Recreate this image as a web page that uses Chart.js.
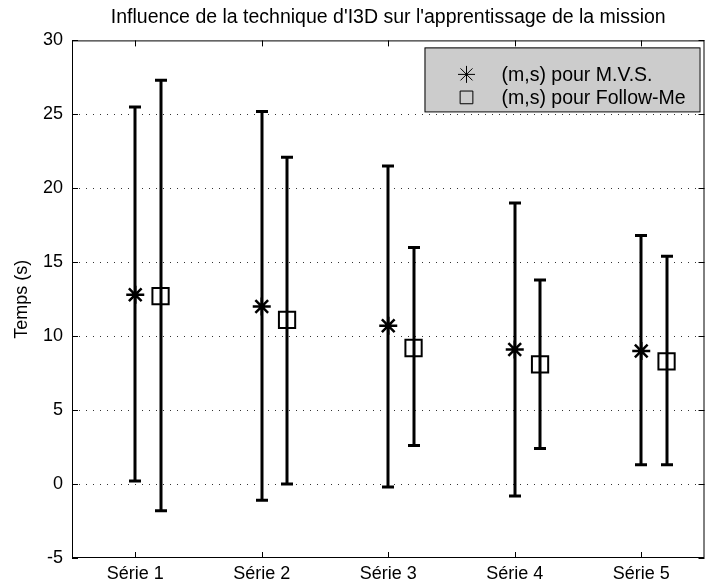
<!DOCTYPE html>
<html>
<head>
<meta charset="utf-8">
<script src="https://cdn.jsdelivr.net/npm/chart.js@4/dist/chart.umd.min.js"></script>
<style>
    html, body { margin: 0; padding: 0; background: #fff; }
</style>
</head>
<body>
<canvas id="chart" width="718" height="587"></canvas>
<script>
const CATEGORIES = ["Série 1", "Série 2", "Série 3", "Série 4", "Série 5"];

// M.V.S. : moyenne, bas et haut de la barre (m - s, m + s)
const MVS_MEAN = [12.8, 12.0, 10.7, 9.1, 9.0];
const MVS_LOW = [0.2, -1.1, -0.2, -0.8, 1.3];
const MVS_HIGH = [25.5, 25.2, 21.5, 19.0, 16.8];

// Follow-Me
const FM_MEAN = [12.7, 11.1, 9.2, 8.1, 8.3];
const FM_LOW = [-1.8, 0.0, 2.6, 2.4, 1.3];
const FM_HIGH = [27.3, 22.1, 16.0, 13.8, 15.4];

const Y_MIN = -5;
const Y_MAX = 30;
const Y_STEP = 5;

const FM_SHIFT = 0.2;
const FONT = "'Liberation Sans', Arial, sans-serif";

function buildPoints(mean, low, high, shift) {
    return mean.map((m, i) => ({ x: i + 1 + shift, y: m, low: low[i], high: high[i] }));
}

const errorBars = {
    id: "errorBars",
    beforeDatasetsDraw(chart) {
        const ctx = chart.ctx;
        const yScale = chart.scales.y;
        ctx.save();
        ctx.strokeStyle = "#000";
        ctx.lineWidth = 3;
        chart.data.datasets.forEach((ds, di) => {
            const meta = chart.getDatasetMeta(di);
            meta.data.forEach((pt, i) => {
                const raw = ds.data[i];
                const x = Math.round(pt.x);
                const yLow = yScale.getPixelForValue(raw.low);
                const yHigh = yScale.getPixelForValue(raw.high);
                ctx.beginPath();
                ctx.moveTo(x, yLow);
                ctx.lineTo(x, yHigh);
                ctx.moveTo(x - 6, yLow);
                ctx.lineTo(x + 6, yLow);
                ctx.moveTo(x - 6, yHigh);
                ctx.lineTo(x + 6, yHigh);
                ctx.stroke();
            });
        });
        ctx.restore();
    },
};

const frameAndTicks = {
    id: "frameAndTicks",
    afterDraw(chart) {
        const ctx = chart.ctx;
        const { left, right, top, bottom } = chart.chartArea;
        const xScale = chart.scales.x;
        const yScale = chart.scales.y;
        const len = 6;
        ctx.save();
        ctx.strokeStyle = "#000";
        ctx.lineWidth = 1;
        ctx.strokeRect(left + 0.5, top + 0.5, right - left - 1, bottom - top - 1);
        ctx.beginPath();
        CATEGORIES.forEach((c, i) => {
            const px = Math.round(xScale.getPixelForValue(i + 1)) + 0.5;
            ctx.moveTo(px, bottom);
            ctx.lineTo(px, bottom - len);
            ctx.moveTo(px, top);
            ctx.lineTo(px, top + len);
        });
        for (let v = Y_MIN; v <= Y_MAX; v += Y_STEP) {
            const py = Math.round(yScale.getPixelForValue(v)) + 0.5;
            ctx.moveTo(left, py);
            ctx.lineTo(left + len, py);
            ctx.moveTo(right, py);
            ctx.lineTo(right - len, py);
        }
        ctx.stroke();
        ctx.restore();
    },
};

const boxLegend = {
    id: "boxLegend",
    afterDraw(chart) {
        const ctx = chart.ctx;
        const area = chart.chartArea;
        const w = 275, h = 64;
        const x0 = area.right - 5 - w;
        const y0 = area.top + 7;
        ctx.save();
        ctx.fillStyle = "#cccccc";
        ctx.fillRect(x0, y0, w, h);
        ctx.strokeStyle = "#000";
        ctx.lineWidth = 1;
        ctx.strokeRect(x0 + 0.5, y0 + 0.5, w, h);
        ctx.font = "19.5px " + FONT;
        ctx.textBaseline = "middle";
        chart.data.datasets.forEach((ds, i) => {
            const cy = y0 + 27 + i * 23;
            ctx.fillStyle = "rgba(0,0,0,0)";
            ctx.strokeStyle = "#000";
            Chart.helpers.drawPoint(ctx, {
                pointStyle: ds.pointStyle,
                radius: ds.legendRadius,
                borderWidth: ds.legendBorder,
                rotation: 0,
            }, x0 + 42, cy);
            ctx.fillStyle = "#000";
            ctx.fillText(ds.label, x0 + 77, cy + 1);
        });
        ctx.restore();
    },
};

new Chart(document.getElementById("chart"), {
    type: "scatter",
    data: {
        datasets: [
            {
                label: "(m,s) pour M.V.S.",
                data: buildPoints(MVS_MEAN, MVS_LOW, MVS_HIGH, 0),
                pointStyle: "star",
                pointRadius: 9,
                legendRadius: 8.5,
                legendBorder: 1.5,
                borderWidth: 2.5,
                borderColor: "#000",
                backgroundColor: "#000",
            },
            {
                label: "(m,s) pour Follow-Me",
                data: buildPoints(FM_MEAN, FM_LOW, FM_HIGH, FM_SHIFT),
                pointStyle: "rect",
                pointRadius: 11.5,
                legendRadius: 9,
                legendBorder: 1.5,
                borderWidth: 2,
                borderColor: "#000",
                backgroundColor: "rgba(0,0,0,0)",
            },
        ],
    },
    options: {
        responsive: false,
        animation: false,
        layout: { padding: { left: 0, right: 11, top: 0, bottom: 0 } },
        plugins: {
            legend: { display: false },
            tooltip: { enabled: false },
            title: {
                display: true,
                fullSize: false,
                text: "Influence de la technique d'I3D sur l'apprentissage de la mission",
                color: "#000",
                font: { family: FONT, size: 19.5, weight: "normal" },
                padding: { top: 6, bottom: 11 },
            },
        },
        scales: {
            x: {
                type: "linear",
                min: 0.5,
                max: 5.5,
                afterFit: (axis) => { axis.height = 29; },
                afterBuildTicks: (axis) => {
                    axis.ticks = CATEGORIES.map((c, i) => ({ value: i + 1 }));
                },
                ticks: {
                    color: "#000",
                    font: { family: FONT, size: 18 },
                    padding: 5,
                    maxRotation: 0,
                    callback: (v) => CATEGORIES[v - 1],
                },
                grid: { display: false, drawTicks: false },
                border: { display: false },
            },
            y: {
                min: Y_MIN,
                max: Y_MAX,
                afterFit: (axis) => { axis.width = 72; },
                ticks: {
                    stepSize: Y_STEP,
                    color: "#000",
                    font: { family: FONT, size: 18 },
                    padding: 9,
                },
                title: {
                    display: true,
                    text: "Temps (s)",
                    color: "#000",
                    font: { family: FONT, size: 18 },
                    padding: { top: 11, bottom: 0 },
                },
                grid: {
                    drawTicks: false,
                    lineWidth: 1,
                    color: (c) => (c.tick.value === Y_MIN || c.tick.value === Y_MAX ? "rgba(0,0,0,0)" : "#333"),
                },
                border: { display: false, dash: [1, 6] },
            },
        },
    },
    plugins: [errorBars, frameAndTicks, boxLegend],
});
</script>
</body>
</html>
